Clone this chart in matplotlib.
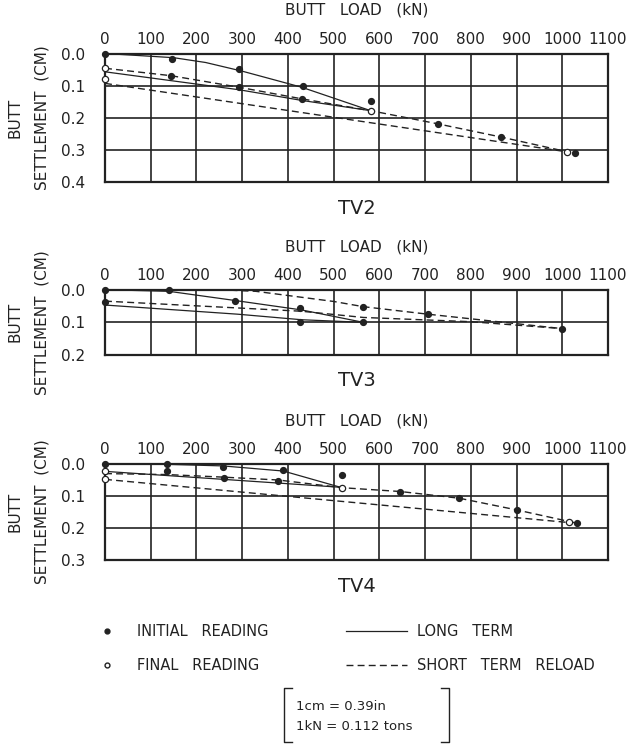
import numpy as np
from matplotlib import pyplot as plt
from matplotlib.lines import Line2D

# ---- TV2 ----
tv2_initial_x = [0, 146, 294, 432, 581, 728, 866, 1027, 144, 293, 430]
tv2_initial_y = [0.0, 0.017, 0.048, 0.100, 0.147, 0.219, 0.260, 0.311, 0.069, 0.105, 0.141]
tv2_final_x = [0, 0, 581, 1010]
tv2_final_y = [0.046, 0.080, 0.178, 0.306]
tv2_long = [
    ([0, 150, 220, 300, 430, 581], [0.0, 0.013, 0.028, 0.055, 0.105, 0.178]),
    ([0, 294, 430, 581], [0.057, 0.113, 0.146, 0.178]),
]
tv2_short = [
    ([0, 144, 293, 430, 581, 728, 866, 1027], [0.046, 0.069, 0.105, 0.141, 0.178, 0.219, 0.260, 0.311]),
    ([0, 1010], [0.093, 0.306]),
]

# ---- TV3 ----
tv3_initial_x = [0, 0, 140, 284, 427, 427, 565, 565, 706, 999]
tv3_initial_y = [0.0, 0.039, 0.0, 0.034, 0.057, 0.100, 0.052, 0.100, 0.075, 0.119]
tv3_final_x = []
tv3_final_y = []
tv3_long = [
    ([0, 140, 284, 430, 565], [0.0, 0.005, 0.033, 0.062, 0.100]),
    ([0, 290, 430, 565], [0.047, 0.075, 0.092, 0.100]),
]
tv3_short = [
    ([0, 430, 565, 800, 999], [0.035, 0.066, 0.085, 0.098, 0.119]),
    ([250, 330, 500, 565, 706, 999], [0.0, 0.005, 0.036, 0.052, 0.075, 0.119]),
]

# ---- TV4 ----
tv4_initial_x = [0, 136, 258, 390, 136, 261, 379, 518, 646, 775, 902, 1032]
tv4_initial_y = [0.0, 0.0, 0.010, 0.018, 0.023, 0.043, 0.053, 0.035, 0.086, 0.107, 0.144, 0.185]
tv4_final_x = [0, 0, 518, 1015]
tv4_final_y = [0.023, 0.048, 0.074, 0.182]
tv4_long = [
    ([0, 136, 258, 390, 518], [0.0, 0.001, 0.006, 0.022, 0.074]),
    ([0, 518], [0.023, 0.073]),
]
tv4_short = [
    ([0, 1015], [0.048, 0.183]),
    ([0, 136, 258, 379, 518, 646, 775, 902, 1032],
     [0.030, 0.033, 0.041, 0.050, 0.074, 0.086, 0.107, 0.144, 0.185]),
]

load_ticks = list(range(0, 1200, 100))
ink = '#222222'
dash = (0, (5, 3))

plt.rcParams['font.family'] = ['DejaVu Sans']

W, H = 629, 744
fig = plt.figure(figsize=(W / 100, H / 100), dpi=100)


def px_axes(top, bottom, left=105, right=608):
    return fig.add_axes([left / W, 1 - bottom / H, (right - left) / W, (bottom - top) / H])


def plot_panel(ax, name, ymax, initial, final, longs, shorts):
    for xs, ys in longs:
        ax.plot(xs, ys, color=ink, lw=0.9, zorder=3)
    for xs, ys in shorts:
        ax.plot(xs, ys, color=ink, lw=1.0, ls=dash, zorder=3)
    ax.plot(initial[0], initial[1], 'o', color=ink, ms=4.2, zorder=4, clip_on=False)
    if len(final[0]):
        ax.plot(final[0], final[1], 'o', mfc='white', mec=ink, mew=0.9, ms=4.5,
                zorder=5, clip_on=False)

    ax.set_xlim(0, 1100)
    ax.set_ylim(ymax, 0)
    ax.set_xticks(load_ticks)
    ax.set_yticks(np.round(np.arange(0, ymax + 0.01, 0.1), 1))
    ax.set_yticklabels(['%.1f' % v for v in ax.get_yticks()])
    ax.xaxis.tick_top()
    ax.xaxis.set_label_position('top')
    ax.tick_params(length=0, labelsize=11, colors=ink, pad=5)
    ax.tick_params(axis='y', pad=14)
    ax.grid(True, color=ink, lw=1.2)
    ax.set_axisbelow(True)
    for s in ax.spines.values():
        s.set_linewidth(1.6)
        s.set_color(ink)
    ax.set_xlabel('BUTT   LOAD   (kN)', fontsize=11, color=ink, labelpad=12)
    ax.text(0.5, -26 / ax.bbox.height, name, transform=ax.transAxes, ha='center',
            va='center', fontsize=14, color=ink)
    ax.text(-90 / 503, 0.5, 'BUTT', transform=ax.transAxes, rotation=90,
            ha='center', va='center', fontsize=11, color=ink)
    ax.text(-63 / 503, 0.5, 'SETTLEMENT  (CM)', transform=ax.transAxes, rotation=90,
            ha='center', va='center', fontsize=11, color=ink)


ax1 = px_axes(53.5, 182)
ax2 = px_axes(289.7, 355)
ax3 = px_axes(464, 560)

plot_panel(ax1, 'TV2', 0.4, (tv2_initial_x, tv2_initial_y), (tv2_final_x, tv2_final_y),
           tv2_long, tv2_short)
plot_panel(ax2, 'TV3', 0.2, (tv3_initial_x, tv3_initial_y), (tv3_final_x, tv3_final_y),
           tv3_long, tv3_short)
plot_panel(ax3, 'TV4', 0.3, (tv4_initial_x, tv4_initial_y), (tv4_final_x, tv4_final_y),
           tv4_long, tv4_short)

# legend, two columns built as two legends
marker_handles = [
    Line2D([], [], marker='o', color=ink, ls='none', ms=3.5),
    Line2D([], [], marker='o', mfc='white', mec=ink, ls='none', ms=3.5),
]
line_handles = [
    Line2D([], [], color=ink, lw=0.9),
    Line2D([], [], color=ink, lw=1.0, ls=dash),
]
leg_kw = dict(loc='upper left', frameon=False, fontsize=10.5, labelspacing=1.3,
              borderaxespad=0, borderpad=0, labelcolor=ink)
fig.legend(marker_handles, ['INITIAL   READING', 'FINAL   READING'],
           bbox_to_anchor=(92 / W, 1 - 624 / H), handlelength=2.0,
           handletextpad=1.1, **leg_kw)
fig.legend(line_handles, ['LONG   TERM', 'SHORT   TERM   RELOAD'],
           bbox_to_anchor=(346 / W, 1 - 624 / H), handlelength=4.2,
           handletextpad=0.7, **leg_kw)

# conversion box
bx0, bx1, by0, by1, tick = 284, 449, 688, 742, 8
for x, d in ((bx0, 1), (bx1, -1)):
    fig.add_artist(Line2D([(x + d * tick) / W, x / W, x / W, (x + d * tick) / W],
                          [1 - by0 / H, 1 - by0 / H, 1 - by1 / H, 1 - by1 / H],
                          transform=fig.transFigure, color=ink, lw=1.0))
fig.text(296 / W, 1 - 707 / H, '1cm = 0.39in', fontsize=9.5, va='center', color=ink)
fig.text(296 / W, 1 - 727 / H, '1kN = 0.112 tons', fontsize=9.5, va='center', color=ink)

fig.savefig('out.png', dpi=100, facecolor='white')
